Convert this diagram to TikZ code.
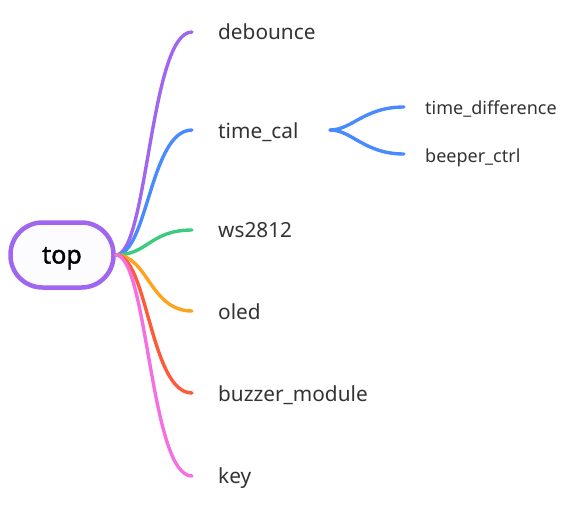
\documentclass[tikz,border=0pt]{standalone}
\usepackage{fontspec}
\setmainfont{Noto Sans}
\newfontfamily\rootfont{Noto Sans}[FakeBold=1.6]
\usepackage{xcolor}
\usetikzlibrary{arrows}
\definecolor{cpurple}{HTML}{A066F0}
\definecolor{cblue}{HTML}{4A8AFF}
\definecolor{cgreen}{HTML}{3CCB7F}
\definecolor{corange}{HTML}{FFA21F}
\definecolor{cred}{HTML}{FF5B3A}
\definecolor{cpink}{HTML}{F56FE3}
\definecolor{ctext}{HTML}{333333}
\tikzset{
    x=1pt, y=-1pt % pixel grid of the reference
}
\tikzstyle{root}=[
    draw = cpurple,
    line width = 4.5pt,
    rounded corners = 32pt,
    fill = blue!1,
    minimum width = 103pt,
    minimum height = 65pt,
    text height = 20pt,
    text depth = 3pt,
    font = \rootfont\fontsize{25}{28}\selectfont,
    text = black
]
\tikzstyle{leaf}=[
    anchor = base west,
    inner sep = 0pt,
    text = ctext,
    font = \fontsize{20.8}{24}\selectfont
]
\tikzstyle{subleaf}=[
    leaf,
    font = \fontsize{18}{20}\selectfont
]
\tikzstyle{branch}=[
    line width = 3.4pt,
    line cap = round
]

\begin{document}
\begin{tikzpicture}
    \useasboundingbox (0, 0) rectangle (586, 509);

    \draw node [root] (top) at (62, 255) {top};

    \draw node [leaf] (debounce) at (218, 39) {debounce};
    \draw node [leaf] (timecal) at (218, 138) {time\_cal};
    \draw node [leaf] (ws) at (218, 237) {ws2812};
    \draw node [leaf] (oled) at (218, 319) {oled};
    \draw node [leaf] (buzzer) at (218, 401) {buzzer\_module};
    \draw node [leaf] (key) at (218, 483) {key};

    \draw node [subleaf] (timediff) at (425, 114) {time\_difference};
    \draw node [subleaf] (beeper) at (425, 162) {beeper\_ctrl};

    \coordinate (e-debounce) at (192, 32);
    \coordinate (e-timecal) at (192, 130);
    \coordinate (e-ws) at (192, 230);
    \coordinate (e-oled) at (192, 311);
    \coordinate (e-buzzer) at (192, 393);
    \coordinate (e-key) at (192, 476);
    \coordinate (s-timecal) at (330, 130);
    \coordinate (e-timediff) at (404, 107);
    \coordinate (e-beeper) at (404, 154);

    \draw [branch, cpurple] (top.east) .. controls +(32, 0) and +(-42, 0) .. (e-debounce);
    \draw [branch, cblue] (top.east) .. controls +(32, 0) and +(-42, 0) .. (e-timecal);
    \draw [branch, cgreen] (top.east) .. controls +(32, 0) and +(-42, 0) .. (e-ws);
    \draw [branch, corange] (top.east) .. controls +(32, 0) and +(-42, 0) .. (e-oled);
    \draw [branch, cred] (top.east) .. controls +(32, 0) and +(-42, 0) .. (e-buzzer);
    \draw [branch, cpink] (top.east) .. controls +(32, 0) and +(-42, 0) .. (e-key);

    \draw [branch, cblue] (s-timecal) .. controls +(22, 0) and +(-40, 0) .. (e-timediff);
    \draw [branch, cblue] (s-timecal) .. controls +(22, 0) and +(-40, 0) .. (e-beeper);
\end{tikzpicture}
\end{document}
